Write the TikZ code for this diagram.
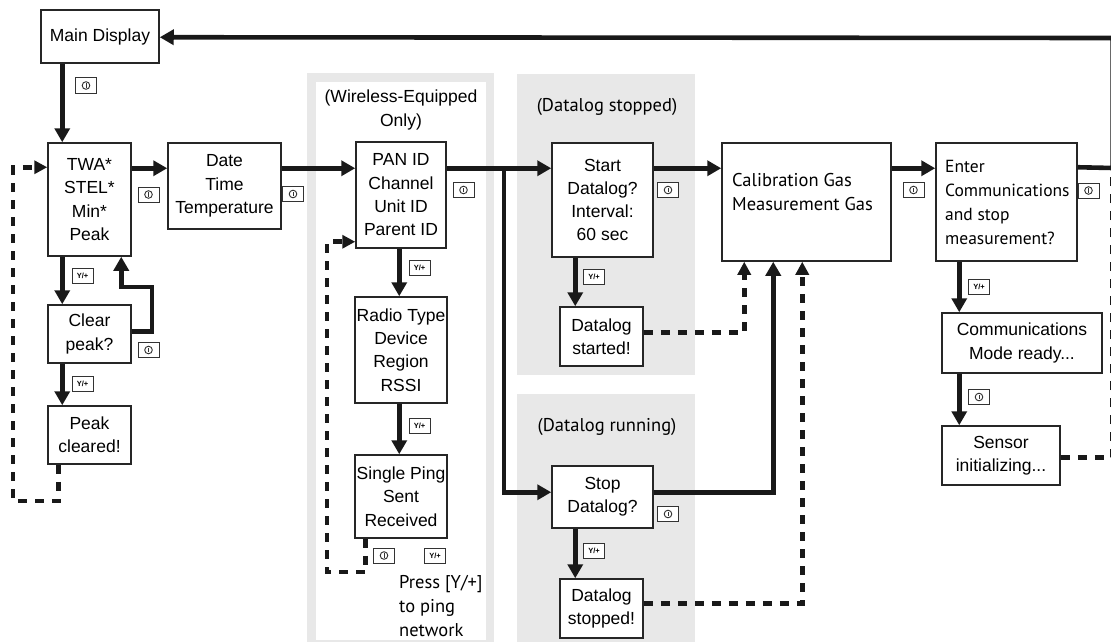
\documentclass[tikz,border=0pt]{standalone}
\usepackage{fontspec}
\setmainfont{Liberation Sans}
\newfontfamily\hfont{PT Sans}
\usetikzlibrary{arrows.meta,calc}
\definecolor{panelgray}{gray}{0.91}
\begin{document}
\begin{tikzpicture}[x=1pt,y=-1pt,
  bx/.style n args={2}{draw=black!85, line width=1.5pt, fill=white, align=center, inner sep=0pt,
     minimum width=#1pt, minimum height=#2pt, font=\fontsize{17.5}{23.3}\selectfont},
  lbl/.style={inner sep=0pt, align=center, font=\fontsize{17.5}{23.3}\selectfont},
  hlbl/.style={inner sep=0pt, align=left, font=\hfont\fontsize{18.5}{24}\selectfont},
  conn/.style={line width=4.6pt, draw=black!90, line join=miter, -{Triangle[length=14pt,width=15pt]}},
  dashconn/.style={line width=4.6pt, draw=black!90, dash pattern=on 9pt off 8pt, -{Triangle[length=13pt,width=13pt]}},
  dashplain/.style={line width=4.6pt, draw=black!90, dash pattern=on 9pt off 8pt},
  powbtn/.style={draw=black!80, line width=1pt, fill=white, minimum width=21pt, minimum height=15pt, inner sep=0pt,
     path picture={\draw[line width=0.9pt] (path picture bounding box.center) circle (3.8pt);
                   \draw[line width=1pt] ([yshift=-2.1pt]path picture bounding box.center) -- ([yshift=2.1pt]path picture bounding box.center);}},
  ybtn/.style={draw=black!80, line width=1pt, fill=white, minimum width=21pt, minimum height=15pt, inner sep=0pt,
     font=\fontsize{7.5}{7.5}\selectfont\bfseries},
]
\useasboundingbox (0,0) rectangle (1111,642);
% background panels
\fill[panelgray] (307,73) rectangle (494,660);
\fill[white] (316,82) rectangle (486,640);
\fill[panelgray] (517,74) rectangle (695,375);
\fill[panelgray] (517,394) rectangle (695,660);

% panel captions
\node[lbl] (wl) at (401,110) {(Wireless-Equipped\\Only)};
\node[hlbl] (dls) at (607,107) {(Datalog stopped)};
\node[hlbl] (dlr) at (607,427) {(Datalog running)};

% boxes
\node[bx={118}{53}] (main) at (100,36.5) {Main Display};
\node[bx={83}{113}] (twa) at (89.5,199.5) {TWA*\\STEL*\\Min*\\Peak};
\node[bx={83}{58}] (clear) at (89.5,334) {Clear\\peak?};
\node[bx={83}{58}] (peakc) at (89.5,435) {Peak\\cleared!};
\node[bx={113}{86}] (date) at (224.5,186) {Date\\Time\\Temperature};
\node[bx={90}{106}] (pan) at (401,195) {PAN ID\\Channel\\Unit ID\\Parent ID};
\node[bx={92}{106}] (radio) at (401,350) {Radio Type\\Device\\Region\\RSSI};
\node[bx={92}{83}] (ping) at (401,496.5) {Single Ping\\Sent\\Received};
\node[bx={101}{114}] (start) at (602.5,200) {Start\\Datalog?\\Interval:\\60 sec};
\node[bx={83}{59}] (started) at (601.5,336.5) {Datalog\\started!};
\node[bx={101}{62}] (stop) at (602.5,497) {Stop\\Datalog?};
\node[bx={83}{59}] (stopped) at (601.5,608.5) {Datalog\\stopped!};
\node[bx={169}{118}] (cal) at (806.5,202) {};
\node[hlbl, anchor=west] (caltext) at (732,192) {Calibration Gas\\Measurement Gas};
\node[bx={141}{118}] (enter) at (1006.5,202) {};
\node[hlbl, anchor=west, font=\hfont\fontsize{17.5}{24}\selectfont] (entertext) at (945,202) {Enter\\Communications\\and stop\\measurement?};
\node[bx={160}{60}] (comm) at (1022,343) {Communications\\Mode ready...};
\node[bx={118}{59}] (sensor) at (1001,455.5) {Sensor\\initializing...};
\node[hlbl, anchor=west] (press) at (399,606) {Press [Y/+]\\to ping\\network};

% helper coordinates
\coordinate (br) at (504,169);
\coordinate (cl1) at (152,287);
\coordinate (dl1) at (13,501);
\coordinate (dl2) at (327,572);
\coordinate (rtop) at (1112.6,38);
\coordinate (rmid) at (1112.6,168);

% solid connectors
\draw[conn] ([xshift=22pt]main.south west) -- ([xshift=15pt]twa.north west);
\draw[conn] ([yshift=-26pt]twa.north east) -- ([yshift=-26pt]date.north west);
\draw[conn] ([yshift=-26pt]date.north east) -- ([yshift=-27pt]pan.north west);
\draw[conn] ([yshift=-27pt]pan.north east) -- ([yshift=-26pt]start.north west);
\draw[conn] (br) |- ([yshift=-27pt]stop.north west);
\draw[conn] ([yshift=-26pt]start.north east) -- ([yshift=-26pt]cal.north west);
\draw[conn] ([yshift=-26pt]cal.north east) -- ([yshift=-26pt]enter.north west);
\draw[conn] ([yshift=-25pt]enter.north east) -- (rmid) -- (rtop) -- ([yshift=-28pt]main.north east);
\draw[conn] ([xshift=15pt]twa.south west) -- ([xshift=15pt]clear.north west);
\draw[conn] ([yshift=-27pt]clear.north east) -| (cl1) -| ([xshift=74pt]twa.south west);
\draw[conn] ([xshift=15pt]clear.south west) -- ([xshift=15pt]peakc.north west);
\draw[conn] ([xshift=44pt]pan.south west) -- ([xshift=45pt]radio.north west);
\draw[conn] ([xshift=45pt]radio.south west) -- ([xshift=45pt]ping.north west);
\draw[conn] ([xshift=24pt]start.south west) -- ([xshift=16pt]started.north west);
\draw[conn] ([xshift=24pt]stop.south west) -- ([xshift=16pt]stopped.north west);
\draw[conn] ([yshift=-27pt]stop.north east) -| ([xshift=52pt]cal.south west);
\draw[conn] ([xshift=24pt]enter.south west) -- ([xshift=18pt]comm.north west);
\draw[conn] ([xshift=18pt]comm.south west) -- ([xshift=18pt]sensor.north west);

% dashed connectors
\draw[dashconn] ([xshift=11pt]peakc.south west) |- (dl1) |- ([yshift=-25pt]twa.north west);
\draw[dashconn] ([xshift=11pt]ping.south west) |- (dl2) |- ([yshift=7pt]pan.south west);
\draw[dashconn] ([yshift=-26pt]started.north east) -| ([xshift=23pt]cal.south west);
\draw[dashconn] ([yshift=-25pt]stopped.north east) -| ([xshift=81pt]cal.south west);
\draw[dashplain] ([yshift=-32pt]sensor.north east) -| (rmid);

% buttons
\node[powbtn] (p1) at (86,85.5) {};
\node[powbtn] (p2) at (148.5,194.5) {};
\node[powbtn] (p3) at (293,194) {};
\node[powbtn] (p4) at (148.5,350) {};
\node[powbtn] (p5) at (463.5,190) {};
\node[powbtn] (p6) at (668,190) {};
\node[powbtn] (p7) at (913.5,190) {};
\node[powbtn] (p8) at (1088.5,190.5) {};
\node[powbtn] (p9) at (668,514) {};
\node[powbtn] (p10) at (384,555.5) {};
\node[powbtn] (p11) at (979,397) {};
\node[ybtn] (y1) at (82.5,276) {Y/+};
\node[ybtn] (y2) at (82.5,384) {Y/+};
\node[ybtn] (y3) at (419.5,267.5) {Y/+};
\node[ybtn] (y4) at (419.5,426) {Y/+};
\node[ybtn] (y5) at (435,555.5) {Y/+};
\node[ybtn] (y6) at (594,277) {Y/+};
\node[ybtn] (y7) at (594,550.5) {Y/+};
\node[ybtn] (y8) at (979,286.5) {Y/+};
\end{tikzpicture}
\end{document}
